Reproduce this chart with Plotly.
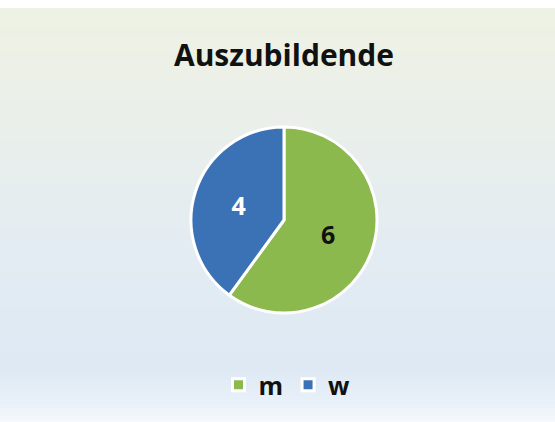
import plotly.graph_objects as go

title_text = "Auszubildende"
labels = ["m", "w"]
values = [6, 4]
slice_colors = ["#8cb94e", "#3b72b6"]
text_colors = ["#111111", "#ffffff"]

W, H = 555, 422

fig = go.Figure(go.Pie(
    labels=labels,
    values=values,
    sort=False,
    direction="clockwise",
    rotation=0,
    marker=dict(colors=slice_colors, line=dict(color="white", width=3)),
    textinfo="value",
    textposition="inside",
    insidetextorientation="horizontal",
    textfont=dict(family="Open Sans", size=25, color=text_colors, weight="bold"),
    domain=dict(x=[(284 - 93) / W, (284 + 93) / W], y=[(202 - 93) / H, (202 + 93) / H]),
    hoverinfo="label+value",
))

# background gradient bands
def lerp(c1, c2, t):
    return tuple(round(a + (b - a) * t) for a, b in zip(c1, c2))

stops = [(0, (255, 255, 255)), (9, (255, 255, 255)), (10, (238, 242, 228)),
         (120, (234, 239, 234)), (250, (227, 236, 242)), (370, (222, 233, 244)),
         (400, (232, 240, 248)), (422, (245, 248, 252))]
shapes = []
step = 4
y = 0
while y < H:
    ym = y + step / 2
    for i in range(len(stops) - 1):
        if stops[i][0] <= ym <= stops[i + 1][0]:
            t = (ym - stops[i][0]) / max(1e-9, stops[i + 1][0] - stops[i][0])
            c = lerp(stops[i][1], stops[i + 1][1], t)
            break
    shapes.append(dict(type="rect", xref="paper", yref="paper", layer="below",
                       x0=0, x1=1, y0=1 - (y + step) / H, y1=1 - y / H,
                       line=dict(width=0), fillcolor="rgb(%d,%d,%d)" % c))
    y += step

fig.update_layout(
    width=W, height=H,
    margin=dict(l=0, r=0, t=0, b=0),
    paper_bgcolor="white",
    shapes=shapes,
    title=dict(text="<b>" + title_text + "</b>", x=284 / W, xanchor="center",
               y=1 - 55 / H, yanchor="middle",
               font=dict(family="Open Sans", size=30, color="#111111")),
    legend=dict(orientation="h", x=287 / W, xanchor="center", y=1 - 385 / H, yanchor="middle",
                font=dict(family="Open Sans", size=25, color="#111111", weight="bold"),
                bgcolor="rgba(0,0,0,0)", itemwidth=30),
    showlegend=True,
)

fig.write_html("out.html",
               config={"displayModeBar": False},
               post_script="document.body.style.margin='0px';document.body.style.overflow='hidden';")
